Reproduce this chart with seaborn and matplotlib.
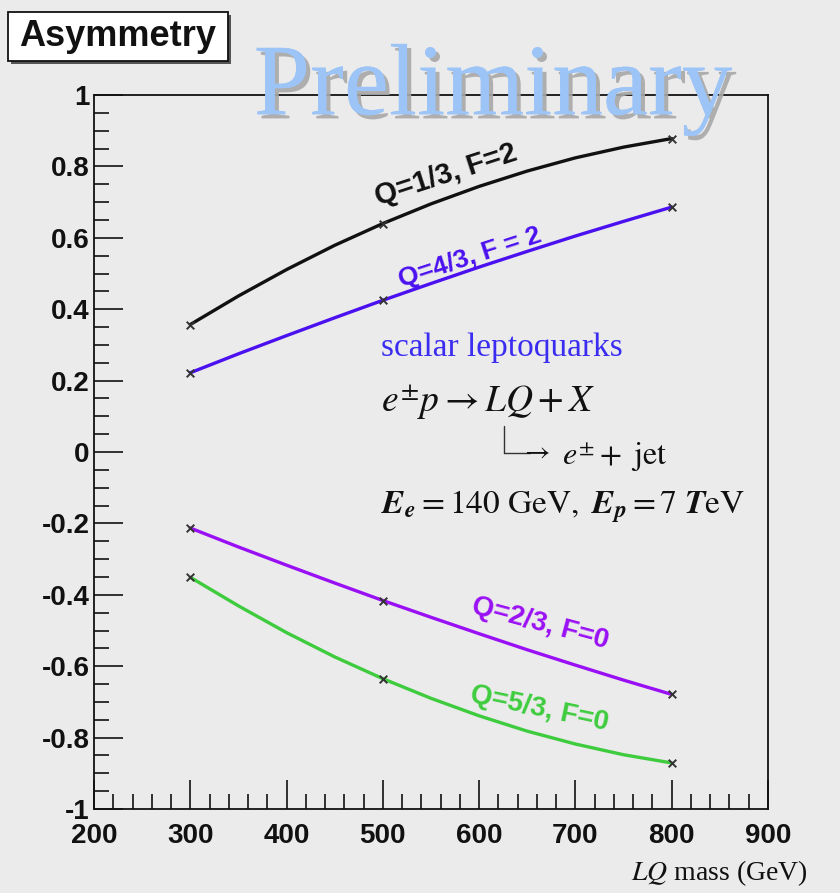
import numpy as np
import pandas as pd
import matplotlib
matplotlib.use("Agg")
import matplotlib.pyplot as plt
from matplotlib.lines import Line2D
from matplotlib.patches import Rectangle
import matplotlib.patheffects as pe
import seaborn as sns

# ---------------- data ----------------
mass_curve = [300, 350, 400, 450, 500, 550, 600, 650, 700, 750, 800]
asym_q13_f2 = [0.357, 0.437, 0.511, 0.579, 0.640, 0.695, 0.744, 0.787, 0.824, 0.854, 0.878]
asym_q43_f2 = [0.222, 0.275, 0.326, 0.376, 0.425, 0.472, 0.518, 0.562, 0.605, 0.646, 0.686]
asym_q23_f0 = [-0.213, -0.266, -0.317, -0.367, -0.416, -0.463, -0.509, -0.554, -0.597, -0.639, -0.679]
asym_q53_f0 = [-0.351, -0.431, -0.506, -0.574, -0.635, -0.690, -0.739, -0.782, -0.818, -0.848, -0.871]

mass_points = [300, 500, 800]
pts_q13_f2 = [0.357, 0.640, 0.878]
pts_q43_f2 = [0.222, 0.425, 0.686]
pts_q23_f0 = [-0.213, -0.416, -0.679]
pts_q53_f0 = [-0.351, -0.635, -0.871]

series_names = ["Q=1/3, F=2", "Q=4/3, F = 2", "Q=2/3, F=0", "Q=5/3, F=0"]
series_colors = ["#111111", "#4a10f0", "#9a10f5", "#3ecc3e"]

curves = pd.DataFrame({
    "mass": mass_curve * 4,
    "asym": asym_q13_f2 + asym_q43_f2 + asym_q23_f0 + asym_q53_f0,
    "series": sum([[n] * len(mass_curve) for n in series_names], []),
})
points = pd.DataFrame({
    "mass": mass_points * 4,
    "asym": pts_q13_f2 + pts_q43_f2 + pts_q23_f0 + pts_q53_f0,
    "series": sum([[n] * len(mass_points) for n in series_names], []),
})

x_ticks = [200, 300, 400, 500, 600, 700, 800, 900]
y_ticks = [-1, -0.8, -0.6, -0.4, -0.2, 0, 0.2, 0.4, 0.6, 0.8, 1]
y_tick_labels = ["-1", "-0.8", "-0.6", "-0.4", "-0.2", "0", "0.2", "0.4", "0.6", "0.8", "1"]

# ---------------- figure ----------------
sns.set_style("white")
plt.rcParams["font.family"] = ["Liberation Sans", "DejaVu Sans"]
plt.rcParams["mathtext.fontset"] = "stix"
plt.rcParams["axes.unicode_minus"] = False

BG = "#ebebeb"
W, H = 840, 893
fig = plt.figure(figsize=(W / 100, H / 100), dpi=100, facecolor=BG)
ax = fig.add_axes([94 / W, 1 - 809 / H, (768 - 94) / W, (809 - 95) / H])
ax.set_facecolor(BG)

pal = dict(zip(series_names, series_colors))
sns.lineplot(data=curves, x="mass", y="asym", hue="series", palette=pal,
             linewidth=2.4, legend=False, ax=ax, sort=True)
sns.scatterplot(data=points, x="mass", y="asym", color="#333333", marker="x",
                s=30, linewidth=1.4, legend=False, ax=ax, zorder=5)

ax.set_xlim(200, 900)
ax.set_ylim(-1, 1)
ax.set_xticks(x_ticks)
ax.set_xticklabels([str(v) for v in x_ticks])
ax.set_yticks(y_ticks)
ax.set_yticklabels(y_tick_labels)
ax.set_xticks(np.arange(200, 901, 20), minor=True)
ax.set_yticks(np.arange(-1, 1.001, 0.05), minor=True)
ax.tick_params(axis="both", which="major", direction="in", length=21, width=1.3,
               labelsize=20, color="#222222")
ax.tick_params(axis="both", which="minor", direction="in", length=11, width=1.3,
               color="#222222")
ax.tick_params(axis="x", which="both", bottom=True, top=False, pad=10)
ax.tick_params(axis="y", which="both", left=True, right=False, pad=3)
for lab in ax.get_xticklabels() + ax.get_yticklabels():
    lab.set_fontweight("bold")
    lab.set_color("#111111")
for sp in ax.spines.values():
    sp.set_color("#111111")
    sp.set_linewidth(1.3)
ax.set_xlabel("")
ax.set_ylabel("")

# line labels
lab_kw = dict(fontweight="bold", ha="center", va="center")
ax.text(566, 0.775, series_names[0], color=series_colors[0], rotation=18, fontsize=21, **lab_kw)
ax.text(590, 0.545, series_names[1], color=series_colors[1], rotation=18, fontsize=19, **lab_kw)
ax.text(663, -0.48, series_names[2], color=series_colors[2], rotation=-15, fontsize=20, **lab_kw)
ax.text(663, -0.72, series_names[3], color=series_colors[3], rotation=-12, fontsize=20, **lab_kw)

# physics annotation
serif = ["Liberation Serif", "DejaVu Serif"]
fig.text(381 / W, 1 - 348 / H, "scalar leptoquarks", color="#3a2cf0",
         fontsize=24, family=serif, ha="left", va="center")
fig.text(381 / W, 1 - 402 / H, r"$e^{\pm}p \rightarrow LQ + X$", color="#111111",
         fontsize=27, ha="left", va="center")
fig.add_artist(Line2D([504 / W, 504 / W], [1 - 426 / H, 1 - 453 / H],
                      color="#333333", linewidth=1.0))
fig.add_artist(Line2D([504 / W, 530 / W], [1 - 453 / H, 1 - 453 / H],
                      color="#333333", linewidth=1.0))
fig.text(520 / W, 1 - 452 / H, r"$\rightarrow$", color="#111111", fontsize=20,
         ha="left", va="center")
fig.text(562 / W, 1 - 457 / H, r"$e^{\pm} + \ \mathrm{jet}$", color="#111111",
         fontsize=23, ha="left", va="center")
fig.text(381 / W, 1 - 507 / H,
         r"$\boldsymbol{E}_{\boldsymbol{e}} = 140\ \mathrm{GeV},\ \boldsymbol{E}_{\boldsymbol{p}} = 7\ \boldsymbol{T}\mathrm{eV}$",
         color="#111111", fontsize=24, ha="left", va="center")

# title box with drop shadow
fig.add_artist(Rectangle((11 / W, 1 - 64 / H), 220 / W, 49 / H,
                         transform=fig.transFigure, facecolor="#555555",
                         edgecolor="none", zorder=2))
fig.add_artist(Rectangle((8 / W, 1 - 61 / H), 220 / W, 49 / H,
                         transform=fig.transFigure, facecolor="white",
                         edgecolor="#111111", linewidth=1.3, zorder=2.1))
fig.text(118 / W, 1 - 36 / H, "Asymmetry", fontsize=26, fontweight="bold",
         ha="center", va="center", color="#111111", zorder=2.2)

# Preliminary watermark
fig.text(493 / W, 1 - 90 / H, "Preliminary", fontsize=73, family=serif,
         color="#9cc4f6", ha="center", va="center",
         path_effects=[pe.withSimplePatchShadow(offset=(3, -3), shadow_rgbFace="#a8a8a8", alpha=0.9),
                       pe.Normal()])

# x axis title
fig.text(808 / W, 1 - 873 / H, r"$LQ$ mass (GeV)", fontsize=20, family=serif,
         ha="right", va="center", color="#111111")

fig.savefig("out.png", dpi=100, facecolor=BG)
